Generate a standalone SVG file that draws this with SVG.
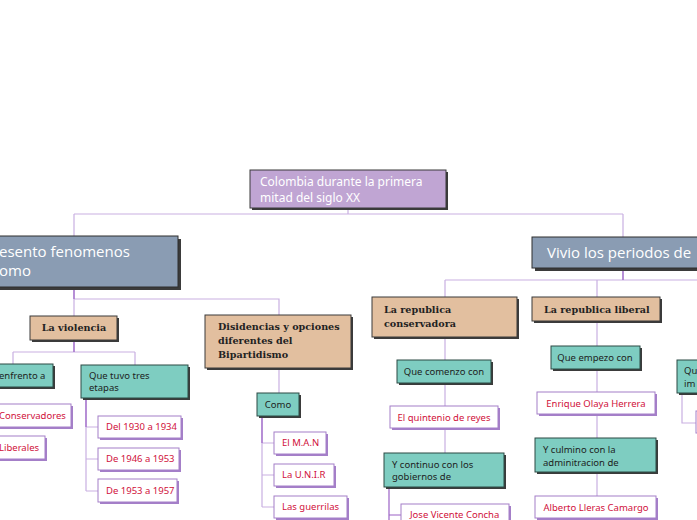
<svg xmlns="http://www.w3.org/2000/svg" width="697" height="520" viewBox="0 0 697 520">
<style>
.bg{fill:#fff}
.sh{fill:#3b3b3b}
.shp{fill:#a47fc8}
.root{fill:#c0a5d3;stroke:#3b3b3b;stroke-width:1}
.main{fill:#8a9cb3;stroke:#2e2e2e;stroke-width:1}
.tan{fill:#e2bf9f;stroke:#3b3b3b;stroke-width:1}
.teal{fill:#7ecdc1;stroke:#2d4a45;stroke-width:1}
.wb{fill:#fff;stroke:#a47fc8;stroke-width:1}
.tw{fill:#fff;font-family:"Noto Sans","Open Sans",sans-serif;font-size:12px}
.tm{fill:#fff;font-family:"Open Sans","Noto Sans",sans-serif;font-size:15px}
.tt{fill:#222;font-family:"DejaVu Serif","Liberation Serif",serif;font-weight:bold;font-size:9.6px}
.tk{fill:#1d1d1d;font-family:"Noto Sans","Open Sans",sans-serif;font-size:9.5px}
.tr{fill:#d0103a;font-family:"Noto Sans","Open Sans",sans-serif;font-size:9.5px}
.c{fill:none;stroke:#c9b0e2;stroke-width:1.2}
.cd{fill:none;stroke:#9c63c6;stroke-width:1.2}
</style>
<rect class="bg" x="0" y="0" width="697" height="520"/>
<g id="connectors">
<path class="c" d="M348 208V214M74 214H623M74 214V236M623 214V238"/>
<path class="c" d="M74 287V316M74 299H279V315"/>
<path class="cd" d="M74 287V299"/>
<path class="c" d="M74 340V352M13 352H135M13 352V364M135 352V365"/>
<path class="cd" d="M74 340V352"/>
<path class="c" d="M86 398V491M86 427H98M86 459H98M86 491H98"/>
<path class="cd" d="M86 398V427"/>
<path class="c" d="M279 368V393"/>
<path class="c" d="M262 416V507M262 443H274M262 475H274M262 507H274"/>
<path class="cd" d="M262 416V443"/>
<path class="c" d="M623 268V280M445 280H697M445 280V297M597 280V297"/>
<path class="cd" d="M623 268V280"/>
<path class="c" d="M445 337V360M445 383V406M445 428V453"/>
<path class="cd" d="M389 487V520M389 515H401"/>
<path class="c" d="M597 321V346M597 369V392M597 414V438M597 472V496"/>
<path class="c" d="M682 393V423H696"/>
</g>
<g id="root">
<rect class="sh" x="252" y="172" width="196" height="38"/>
<rect class="root" x="250" y="170" width="196" height="38"/>
<text class="tw" x="260" y="186">Colombia durante la primera</text>
<text class="tw" x="260" y="202">mitad del siglo XX</text>
</g>
<g id="n-presento">
<rect class="sh" x="-8" y="239" width="189" height="51"/>
<rect class="main" x="-11" y="236" width="189" height="51"/>
<text class="tm" x="-1" y="257">esento fenomenos</text>
<text class="tm" x="-1" y="276">omo</text>
</g>
<g id="n-vivio">
<rect class="sh" x="535" y="240" width="170" height="31"/>
<rect class="main" x="532" y="237" width="170" height="31"/>
<text class="tm" x="547" y="258">Vivio los periodos de</text>
</g>
<g id="n-violencia">
<rect class="sh" x="32" y="318" width="87" height="24"/>
<rect class="tan" x="30" y="316" width="87" height="24"/>
<text class="tt" x="74" y="331" text-anchor="middle">La violencia</text>
</g>
<g id="n-disidencias">
<rect class="sh" x="207" y="317" width="146" height="53"/>
<rect class="tan" x="205" y="315" width="146" height="53"/>
<text class="tt" x="218" y="330">Disidencias y opciones</text>
<text class="tt" x="218" y="344">diferentes del</text>
<text class="tt" x="218" y="358">Bipartidismo</text>
</g>
<g id="n-enfrento">
<rect class="sh" x="-3" y="366" width="58" height="23"/>
<rect class="teal" x="-5" y="364" width="58" height="23"/>
<text class="tk" x="-1" y="379">enfrento a</text>
</g>
<g id="n-etapas">
<rect class="sh" x="83" y="367" width="107" height="33"/>
<rect class="teal" x="81" y="365" width="107" height="33"/>
<text class="tk" x="89" y="379">Que tuvo tres</text>
<text class="tk" x="89" y="391">etapas</text>
</g>
<g id="n-conservadores">
<rect class="shp" x="-3" y="406" width="76" height="23"/>
<rect class="wb" x="-5" y="404" width="76" height="23"/>
<text class="tr" x="-1" y="419">Conservadores</text>
</g>
<g id="n-liberales">
<rect class="shp" x="-3" y="438" width="50" height="23"/>
<rect class="wb" x="-5" y="436" width="50" height="23"/>
<text class="tr" x="-1" y="451">Liberales</text>
</g>
<g id="n-1930">
<rect class="shp" x="100" y="418" width="83" height="22"/>
<rect class="wb" x="98" y="416" width="83" height="22"/>
<text class="tr" x="106" y="430">Del 1930 a 1934</text>
</g>
<g id="n-1946">
<rect class="shp" x="100" y="450" width="81" height="22"/>
<rect class="wb" x="98" y="448" width="81" height="22"/>
<text class="tr" x="106" y="462">De 1946 a 1953</text>
</g>
<g id="n-1953">
<rect class="shp" x="100" y="481" width="79" height="23"/>
<rect class="wb" x="98" y="479" width="79" height="23"/>
<text class="tr" x="106" y="494">De 1953 a 1957</text>
</g>
<g id="n-como">
<rect class="sh" x="259" y="395" width="42" height="23"/>
<rect class="teal" x="257" y="393" width="42" height="23"/>
<text class="tk" x="278" y="408" text-anchor="middle">Como</text>
</g>
<g id="n-man">
<rect class="shp" x="276" y="434" width="52" height="22"/>
<rect class="wb" x="274" y="432" width="52" height="22"/>
<text class="tr" x="282" y="446">El M.A.N</text>
</g>
<g id="n-unir">
<rect class="shp" x="276" y="466" width="60" height="22"/>
<rect class="wb" x="274" y="464" width="60" height="22"/>
<text class="tr" x="282" y="478">La U.N.I.R</text>
</g>
<g id="n-guerrilas">
<rect class="shp" x="276" y="498" width="73" height="22"/>
<rect class="wb" x="274" y="496" width="73" height="22"/>
<text class="tr" x="282" y="510">Las guerrilas</text>
</g>
<g id="n-conservadora">
<rect class="sh" x="374" y="299" width="145" height="40"/>
<rect class="tan" x="372" y="297" width="145" height="40"/>
<text class="tt" x="384" y="313">La republica</text>
<text class="tt" x="384" y="327">conservadora</text>
</g>
<g id="n-liberal">
<rect class="sh" x="534" y="299" width="128" height="24"/>
<rect class="tan" x="532" y="297" width="128" height="24"/>
<text class="tt" x="544" y="313">La republica liberal</text>
</g>
<g id="n-comenzo">
<rect class="sh" x="399" y="362" width="94" height="23"/>
<rect class="teal" x="397" y="360" width="94" height="23"/>
<text class="tk" x="444" y="375" text-anchor="middle">Que comenzo con</text>
</g>
<g id="n-quintenio">
<rect class="shp" x="392" y="408" width="108" height="22"/>
<rect class="wb" x="390" y="406" width="108" height="22"/>
<text class="tr" x="444" y="421" text-anchor="middle">El quintenio de reyes</text>
</g>
<g id="n-continuo">
<rect class="sh" x="386" y="455" width="120" height="34"/>
<rect class="teal" x="384" y="453" width="120" height="34"/>
<text class="tk" x="392" y="468">Y continuo con los</text>
<text class="tk" x="392" y="480">gobiernos de</text>
</g>
<g id="n-concha">
<rect class="shp" x="403" y="506" width="108" height="22"/>
<rect class="wb" x="401" y="504" width="108" height="22"/>
<text class="tr" x="410" y="518">Jose Vicente Concha</text>
</g>
<g id="n-empezo">
<rect class="sh" x="553" y="348" width="89" height="23"/>
<rect class="teal" x="551" y="346" width="89" height="23"/>
<text class="tk" x="595" y="361" text-anchor="middle">Que empezo con</text>
</g>
<g id="n-olaya">
<rect class="shp" x="539" y="394" width="118" height="22"/>
<rect class="wb" x="537" y="392" width="118" height="22"/>
<text class="tr" x="596" y="407" text-anchor="middle">Enrique Olaya Herrera</text>
</g>
<g id="n-culmino">
<rect class="sh" x="537" y="440" width="121" height="34"/>
<rect class="teal" x="535" y="438" width="121" height="34"/>
<text class="tk" x="543" y="453">Y culmino con la</text>
<text class="tk" x="543" y="466">adminitracion de</text>
</g>
<g id="n-lleras">
<rect class="shp" x="537" y="498" width="121" height="22"/>
<rect class="wb" x="535" y="496" width="121" height="22"/>
<text class="tr" x="596" y="511" text-anchor="middle">Alberto Lleras Camargo</text>
</g>
<g id="n-qu">
<rect class="sh" x="679" y="362" width="30" height="33"/>
<rect class="teal" x="677" y="360" width="30" height="33"/>
<text class="tk" x="684" y="374">Qu</text>
<text class="tk" x="684" y="387">im</text>
</g>
<g id="n-edge">
<rect class="shp" x="698" y="413" width="20" height="22"/>
<rect class="wb" x="696" y="411" width="20" height="22"/>
</g>
</svg>
